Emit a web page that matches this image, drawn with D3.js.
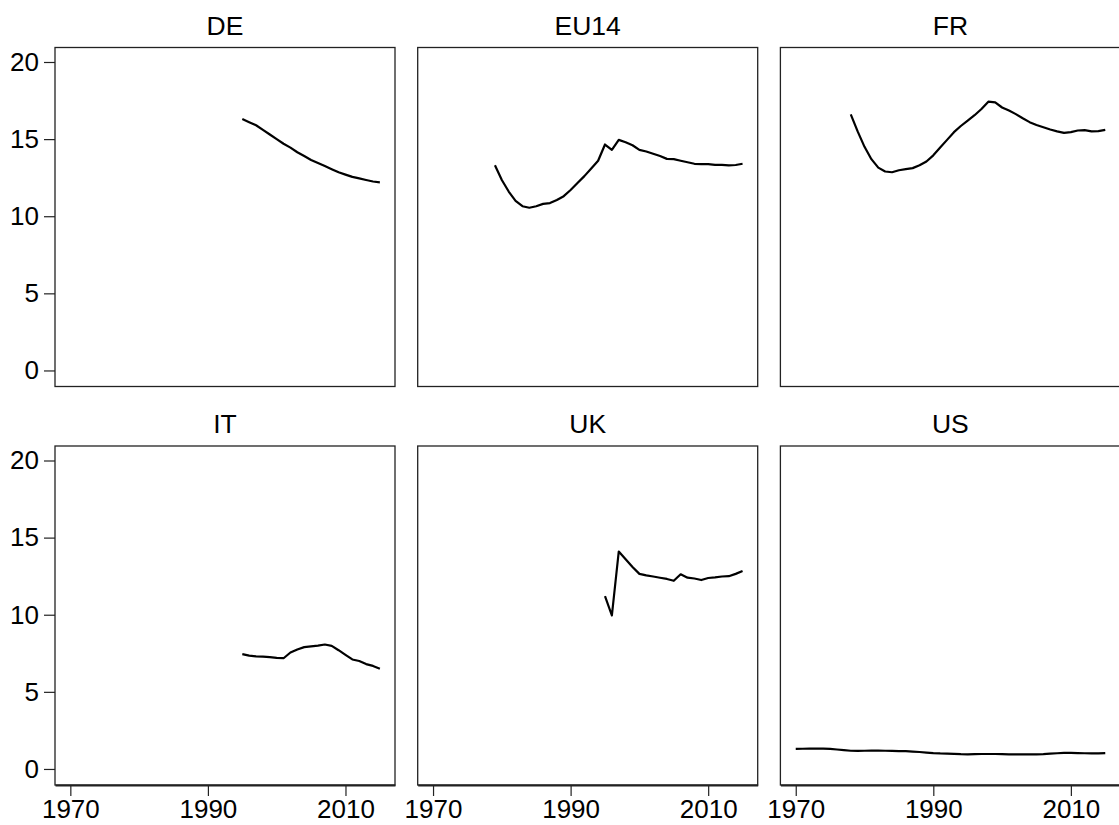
<!DOCTYPE html>
<html>
<head>
<meta charset="utf-8">
<script src="https://cdn.jsdelivr.net/npm/d3@7"></script>
<style>
  body { margin: 0; background: #fff; }
  svg { display: block; font-family: "Liberation Sans", Arial, sans-serif; }
</style>
</head>
<body>
<svg id="chart" width="1119" height="825"></svg>
<script>
// panel names, in reading order
const countries = ['DE', 'EU14', 'FR', 'IT', 'UK', 'US'];

// series values, each starts at its first year
const deStart = 1995;
const deValues = [16.3, 16.1, 15.9, 15.6, 15.3, 15.0, 14.7, 14.45, 14.15, 13.9, 13.65, 13.45,
  13.25, 13.05, 12.85, 12.7, 12.55, 12.45, 12.35, 12.25, 12.2];

const eu14Start = 1979;
const eu14Values = [13.3, 12.35, 11.6, 11.0, 10.65, 10.55, 10.65, 10.8, 10.85, 11.05, 11.3, 11.7,
  12.15, 12.6, 13.1, 13.6, 14.65, 14.3, 14.95, 14.8, 14.6, 14.3, 14.2, 14.05, 13.9, 13.72, 13.7,
  13.6, 13.5, 13.4, 13.38, 13.38, 13.33, 13.33, 13.3, 13.32, 13.4];

const frStart = 1978;
const frValues = [16.6, 15.5, 14.5, 13.7, 13.15, 12.9, 12.85, 12.98, 13.05, 13.12, 13.3, 13.55,
  13.95, 14.45, 14.95, 15.45, 15.85, 16.2, 16.55, 16.95, 17.43, 17.38, 17.05, 16.85, 16.62, 16.35,
  16.1, 15.92, 15.77, 15.62, 15.5, 15.4, 15.45, 15.56, 15.58, 15.5, 15.52, 15.6];

const itStart = 1995;
const itValues = [7.45, 7.35, 7.3, 7.28, 7.25, 7.2, 7.18, 7.55, 7.75, 7.9, 7.95, 8.0, 8.07, 7.98,
  7.7, 7.4, 7.1, 7.0, 6.8, 6.68, 6.5];

const ukStart = 1995;
const ukValues = [11.2, 9.95, 14.1, 13.6, 13.1, 12.65, 12.55, 12.48, 12.4, 12.32, 12.2, 12.62,
  12.4, 12.35, 12.25, 12.38, 12.42, 12.48, 12.5, 12.65, 12.83];

const usStart = 1970;
const usValues = [1.30, 1.31, 1.32, 1.32, 1.32, 1.30, 1.26, 1.22, 1.18, 1.17, 1.18, 1.19, 1.19,
  1.18, 1.17, 1.16, 1.15, 1.13, 1.10, 1.06, 1.03, 1.01, 1.00, 0.98, 0.96, 0.95, 0.96, 0.97, 0.97,
  0.97, 0.96, 0.95, 0.95, 0.94, 0.94, 0.95, 0.96, 0.99, 1.02, 1.04, 1.04, 1.03, 1.02, 1.01, 1.01, 1.03];

// tick labels
const xTicks = [1970, 1990, 2010];
const yTicks = [0, 5, 10, 15, 20];

function toPoints(start, values) {
  return values.map((v, i) => ({ year: start + i, value: v }));
}

const series = {
  DE: toPoints(deStart, deValues),
  EU14: toPoints(eu14Start, eu14Values),
  FR: toPoints(frStart, frValues),
  IT: toPoints(itStart, itValues),
  UK: toPoints(ukStart, ukValues),
  US: toPoints(usStart, usValues)
};

// layout of the 3x2 grid
const gridLeft = 55, gridTop = 47.5;
const panelW = 340, panelH = 339;
const colStep = 362.7, rowStep = 398.5;
const tickFont = 26, titleFont = 26.5;

const svg = d3.select('#chart');

const x = d3.scaleLinear().domain([1967.77, 2017.2]).range([0, panelW]);
const y = d3.scaleLinear().domain([-1.04, 20.94]).range([panelH, 0]);

const line = d3.line()
  .x(d => x(d.year))
  .y(d => y(d.value));

countries.forEach((c, i) => {
  const col = i % 3, row = Math.floor(i / 3);
  const g = svg.append('g')
    .attr('transform', `translate(${gridLeft + col * colStep},${gridTop + row * rowStep})`);

  // title
  g.append('text')
    .attr('x', panelW / 2)
    .attr('y', -13)
    .attr('text-anchor', 'middle')
    .attr('font-size', titleFont)
    .attr('fill', '#000')
    .text(c);

  // frame
  g.append('rect')
    .attr('width', panelW)
    .attr('height', panelH)
    .attr('fill', 'none')
    .attr('stroke', '#222')
    .attr('stroke-width', 1.3);

  g.append('path')
    .datum(series[c])
    .attr('d', line)
    .attr('fill', 'none')
    .attr('stroke', '#000')
    .attr('stroke-width', 2.2)
    .attr('stroke-linejoin', 'round');

  if (col === 0) {
    const ya = g.append('g')
      .call(d3.axisLeft(y).tickValues(yTicks).tickSize(11).tickPadding(5).tickSizeOuter(0));
    ya.select('.domain').remove();
    ya.selectAll('text').attr('font-size', tickFont).attr('font-family', null).attr('fill', '#000');
    ya.selectAll('line').attr('stroke', '#222').attr('stroke-width', 1.2);
  }

  if (row === 1) {
    const xa = g.append('g')
      .attr('transform', `translate(0,${panelH})`)
      .call(d3.axisBottom(x).tickValues(xTicks).tickFormat(d3.format('d'))
        .tickSize(11).tickPadding(4).tickSizeOuter(0));
    xa.select('.domain').attr('stroke', '#222').attr('stroke-width', 2);
    xa.selectAll('text').attr('font-size', tickFont).attr('font-family', null).attr('fill', '#000');
    xa.selectAll('line').attr('stroke', '#222').attr('stroke-width', 1.2);
  }
});
</script>
</body>
</html>
